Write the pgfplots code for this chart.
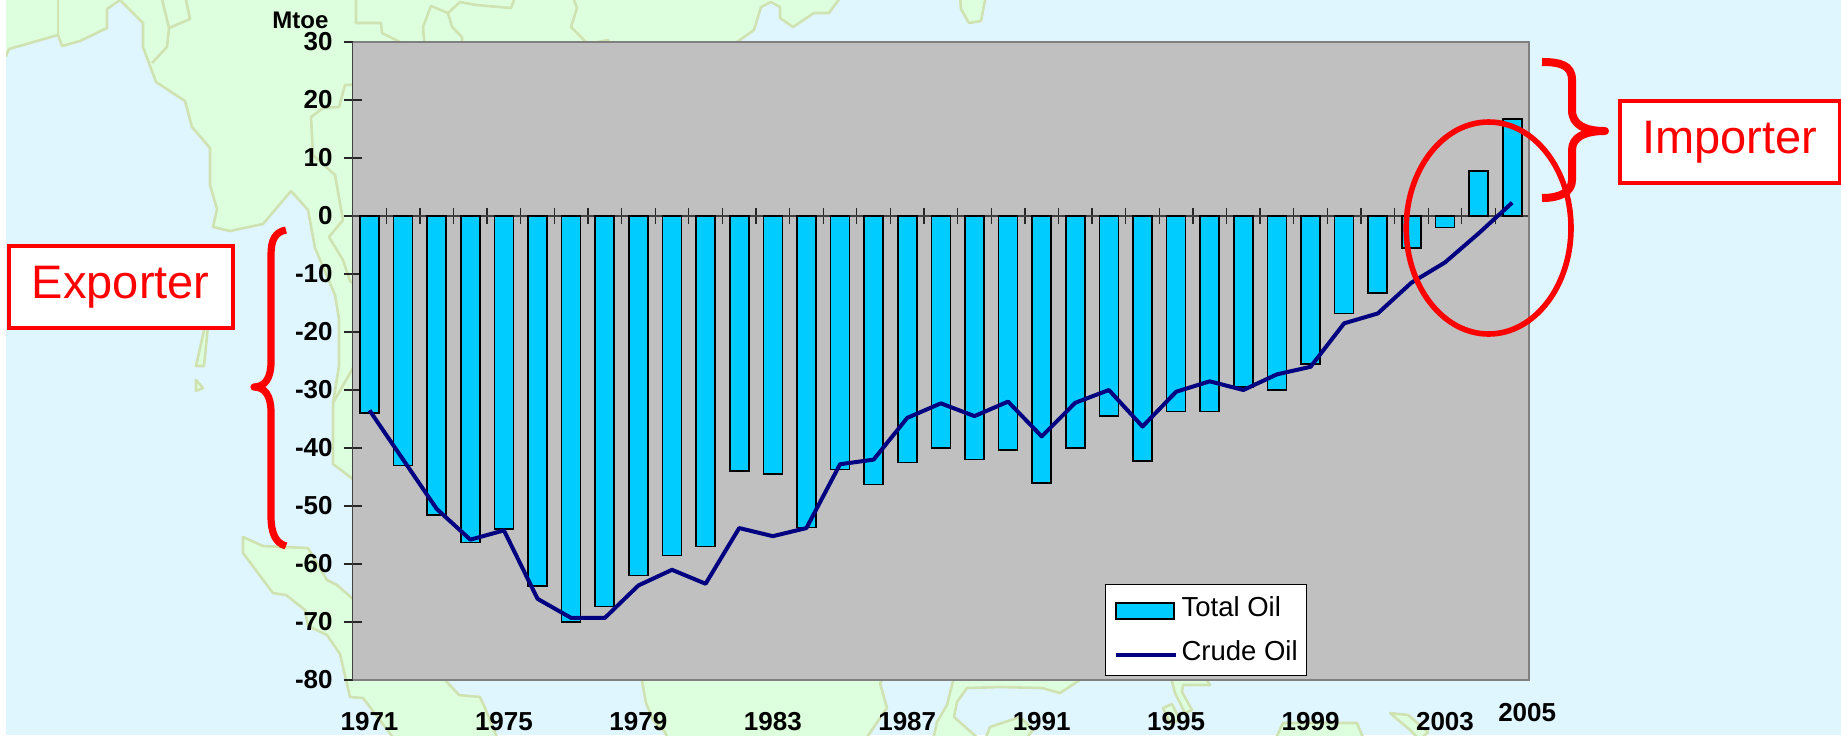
\documentclass[border=0pt]{standalone}
\usepackage{fontspec}
\setmainfont{Liberation Sans}
\usepackage{pgfplots}
\pgfplotsset{compat=1.18}
\definecolor{seaBlue}{RGB}{224,246,255}
\definecolor{landGreen}{RGB}{222,255,222}
\definecolor{landEdge}{RGB}{207,226,178}
\definecolor{plotGray}{RGB}{192,192,192}
\definecolor{barCyan}{RGB}{0,204,255}
\definecolor{crudeNavy}{RGB}{0,0,128}
\definecolor{markRed}{RGB}{255,0,0}

\begin{document}
\begin{tikzpicture}
  \useasboundingbox (0pt,0pt) rectangle (920.5pt,-367.5pt);
  \begin{scope}[x=0.5pt,y=-0.5pt]
    \fill[white] (0,0) rectangle (1841,735);
    \begin{scope}
      \clip (6,0) rectangle (1841,735);
      \fill[seaBlue] (0,0) rectangle (1841,735);
      \begin{scope}[fill=landGreen,draw=landEdge,line width=1.3pt,line join=round]
        % mainland, left and top
        \filldraw (0,58) -- (6,56) -- (9,49) -- (58,35) -- (62,46) -- (80,41) -- (107,28) -- (107,9) -- (120,0)
          -- (143,23) -- (143,47) -- (156,82) -- (185,101) -- (192,127) -- (210,148) -- (210,185) -- (217,209)
          -- (213,227) -- (230,231) -- (263,224) -- (291,191) -- (308,210) -- (315,248) -- (335,295) -- (339,319)
          -- (339,366) -- (333,403) -- (333,464) -- (362,486) -- (362,52) -- (728,52) -- (737,42) -- (754,30)
          -- (761,7) -- (771,2) -- (780,7) -- (780,18) -- (793,27) -- (814,13) -- (829,13) -- (842,-5) -- (0,-5) -- cycle;
        \filldraw (960,-5) -- (961,9) -- (969,23) -- (981,21) -- (986,-5) -- cycle;
        \filldraw (205,326) -- (196,366) -- (204,366) -- (208,326) -- cycle;
        \filldraw (196,380) -- (203,388) -- (196,391) -- cycle;
        % island at lower left
        \filldraw (243,537) -- (263,546) -- (308,548) -- (327,580) -- (337,585) -- (362,607) -- (362,670) -- (436,670)
          -- (447,682) -- (459,695) -- (480,697) -- (485,708) -- (498,740) -- (395,740) -- (363,698) -- (350,697)
          -- (340,654) -- (327,635) -- (308,626) -- (305,610) -- (286,595) -- (273,593) -- (243,553) -- cycle;
        % pieces below the plot
        \filldraw (640,670) -- (642,681) -- (646,703) -- (653,720) -- (665,732) -- (668,740) -- (865,740) -- (887,708)
          -- (880,683) -- (890,670) -- cycle;
        \filldraw (955,670) -- (953,681) -- (947,705) -- (937,722) -- (933,740) -- (980,740) -- (954,717) -- (957,702)
          -- (967,688) -- (1000,687) -- (1042,688) -- (1060,693) -- (1095,670) -- cycle;
        \filldraw (985,740) -- (990,727) -- (1020,717) -- (1033,730) -- (1025,740) -- cycle;
        \filldraw (1170,670) -- (1172,681) -- (1175,693) -- (1185,713) -- (1192,710) -- (1182,692) -- (1183,685)
          -- (1210,685) -- (1200,670) -- cycle;
        \filldraw (1163,708) -- (1172,704) -- (1180,720) -- (1170,724) -- cycle;
        \filldraw (1275,740) -- (1283,723) -- (1357,723) -- (1364,740) -- cycle;
        \filldraw (1390,713) -- (1408,715) -- (1428,732) -- (1420,740) -- (1410,730) -- cycle;
        % borders
        \draw (58,-5) -- (58,35);
        \draw (161,-5) -- (169,28) -- (167,47) -- (152,63);
        \draw (169,28) -- (190,19) -- (185,-5);
        \draw (362,84) -- (345,85) -- (339,107) -- (323,108) -- (311,117) -- (313,155) -- (335,175) -- (343,220)
          -- (329,237) -- (343,260) -- (350,281) -- (362,290);
        \draw (333,403) -- (362,352);
        \draw (356,-5) -- (356,23) -- (381,23) -- (382,33) -- (410,47);
        \draw (516,-5) -- (511,8) -- (476,5) -- (460,2) -- (448,13) -- (431,6) -- (423,27) -- (425,50);
        \draw (448,13) -- (452,27) -- (462,37) -- (462,50);
        \draw (572,-5) -- (577,8) -- (571,27) -- (588,44) -- (608,40) -- (612,50);
      \end{scope}
    \end{scope}
  \end{scope}

  \begin{axis}[
      at={(176.35pt,-340pt)},
      anchor=south west,
      scale only axis,
      width=588.15pt,
      height=319pt,
      xmin=1970.5, xmax=2005.5,
      ymin=-80, ymax=30,
      ytick={-80,-70,-60,-50,-40,-30,-20,-10,0,10,20,30},
      xtick={1971,1975,1979,1983,1987,1991,1995,1999,2003},
      minor xtick={1970.5,1971.5,1972.5,1973.5,1974.5,1975.5,1976.5,1977.5,1978.5,1979.5,1980.5,1981.5,1982.5,1983.5,1984.5,1985.5,1986.5,1987.5,1988.5,1989.5,1990.5,1991.5,1992.5,1993.5,1994.5,1995.5,1996.5,1997.5,1998.5,1999.5,2000.5,2001.5,2002.5,2003.5,2004.5,2005.5},
      extra x ticks={2005},
      extra x tick style={
        xticklabel style={xshift=7.5pt,yshift=4.75pt},
      },
      axis x line=middle,
      axis y line=left,
      axis line style={-,draw=black!75,line width=0.7pt},
      tick align=center,
      major tick length=9pt,
      minor tick length=8pt,
      tick style={draw=black!85,line width=0.65pt},
      major x tick style={draw=none},
      axis background/.style={fill=plotGray},
      hide obscured y ticks=false,
      hide obscured x ticks=false,
      /pgf/number format/assume math mode=true,
      /pgf/number format/1000 sep={},
      tick label style={font=\fontsize{13}{15}\bfseries\selectfont},
      xticklabel style={yshift=-240.3pt},
      yticklabel style={xshift=-2pt},
      clip=false,
      legend style={
        at={(0.6396,0.006)}, anchor=south west,
        draw=black, line width=0.5pt, fill=white,
        font=\fontsize{13.75}{16}\selectfont,
        inner xsep=2.5pt, inner ysep=4pt,
        row sep=6.75pt,
      },
      legend cell align=left,
      after end axis/.code={
        \draw[black!50,line width=1pt] (rel axis cs:0,1) -- (rel axis cs:1,1) -- (rel axis cs:1,0) -- (rel axis cs:0,0);
      },
    ]
    \addplot[ybar, bar width=9.5pt, bar shift=0pt, fill=barCyan, draw=black, line width=0.8pt,
      legend image code/.code={\path (-1.5pt,0pt); \draw[fill=barCyan,draw=black,line width=1pt] (0pt,-5.5pt) rectangle (29pt,2.5pt);}]
      coordinates {
      (1971,-34) (1972,-43) (1973,-51.5) (1974,-56.3) (1975,-54) (1976,-63.8) (1977,-70)
      (1978,-67.3) (1979,-62) (1980,-58.5) (1981,-57) (1982,-44) (1983,-44.5) (1984,-53.7)
      (1985,-43.7) (1986,-46.3) (1987,-42.5) (1988,-40) (1989,-42) (1990,-40.3) (1991,-46)
      (1992,-40) (1993,-34.5) (1994,-42.2) (1995,-33.7) (1996,-33.7) (1997,-29.5) (1998,-30)
      (1999,-25.5) (2000,-16.8) (2001,-13.3) (2002,-5.5) (2003,-2) (2004,7.8) (2005,16.7)
    };
    \addlegendentry{Total Oil}
    \addplot[crudeNavy, line width=2pt, line join=round,
      legend image code/.code={\path (-1.5pt,0pt); \draw[crudeNavy,line width=2pt] (0pt,-1.5pt) -- (30pt,-1.5pt);}]
      coordinates {
      (1971,-33.5) (1972,-42) (1973,-50.5) (1974,-55.8) (1975,-54.2) (1976,-66) (1977,-69.3)
      (1978,-69.3) (1979,-63.7) (1980,-61) (1981,-63.4) (1982,-53.8) (1983,-55.2) (1984,-53.8)
      (1985,-42.8) (1986,-42) (1987,-34.8) (1988,-32.3) (1989,-34.5) (1990,-32) (1991,-38)
      (1992,-32.2) (1993,-30) (1994,-36.3) (1995,-30.3) (1996,-28.5) (1997,-30) (1998,-27.3)
      (1999,-26) (2000,-18.5) (2001,-16.8) (2002,-11.5) (2003,-8) (2004,-3) (2005,2.3)
    };
    \addlegendentry{Crude Oil}
  \end{axis}

  \begin{scope}[x=0.5pt,y=-0.5pt]
    \node[font=\fontsize{12}{14}\bfseries\selectfont,anchor=base west,inner sep=0pt] at (272,28) {Mtoe};
    % annotations
    \draw[markRed,line width=2.8pt] (1488.6,228) ellipse [x radius=82.4,y radius=106];
    \draw[markRed,line width=3.6pt,line join=round]
      (286,230) .. controls (275,232) and (271,240) .. (271,255) -- (271,362)
      .. controls (271,378) and (265,387) .. (254,387)
      .. controls (265,387) and (271,396) .. (271,412) -- (271,516)
      .. controls (271,532) and (275,543) .. (286,546);
    \draw[markRed,line width=4pt,line join=round]
      (1542,62) .. controls (1560,62) and (1572,65) .. (1572,80) -- (1572,110)
      .. controls (1572,125) and (1585,131) .. (1605,131)
      .. controls (1585,131) and (1572,137) .. (1572,150) -- (1572,180)
      .. controls (1572,192) and (1560,198) .. (1542,198);
    \node[draw=markRed,line width=1.8pt,fill=white,anchor=north west,minimum width=112pt,minimum height=41pt,inner sep=0pt,
      font=\fontsize{23.5}{28}\selectfont,text=markRed] at (7,244) {Exporter};
    \node[draw=markRed,line width=1.8pt,fill=white,anchor=north west,minimum width=110pt,minimum height=41pt,inner sep=0pt,
      font=\fontsize{23.5}{28}\selectfont,text=markRed] at (1618,99) {Importer};
  \end{scope}
\end{tikzpicture}
\end{document}
